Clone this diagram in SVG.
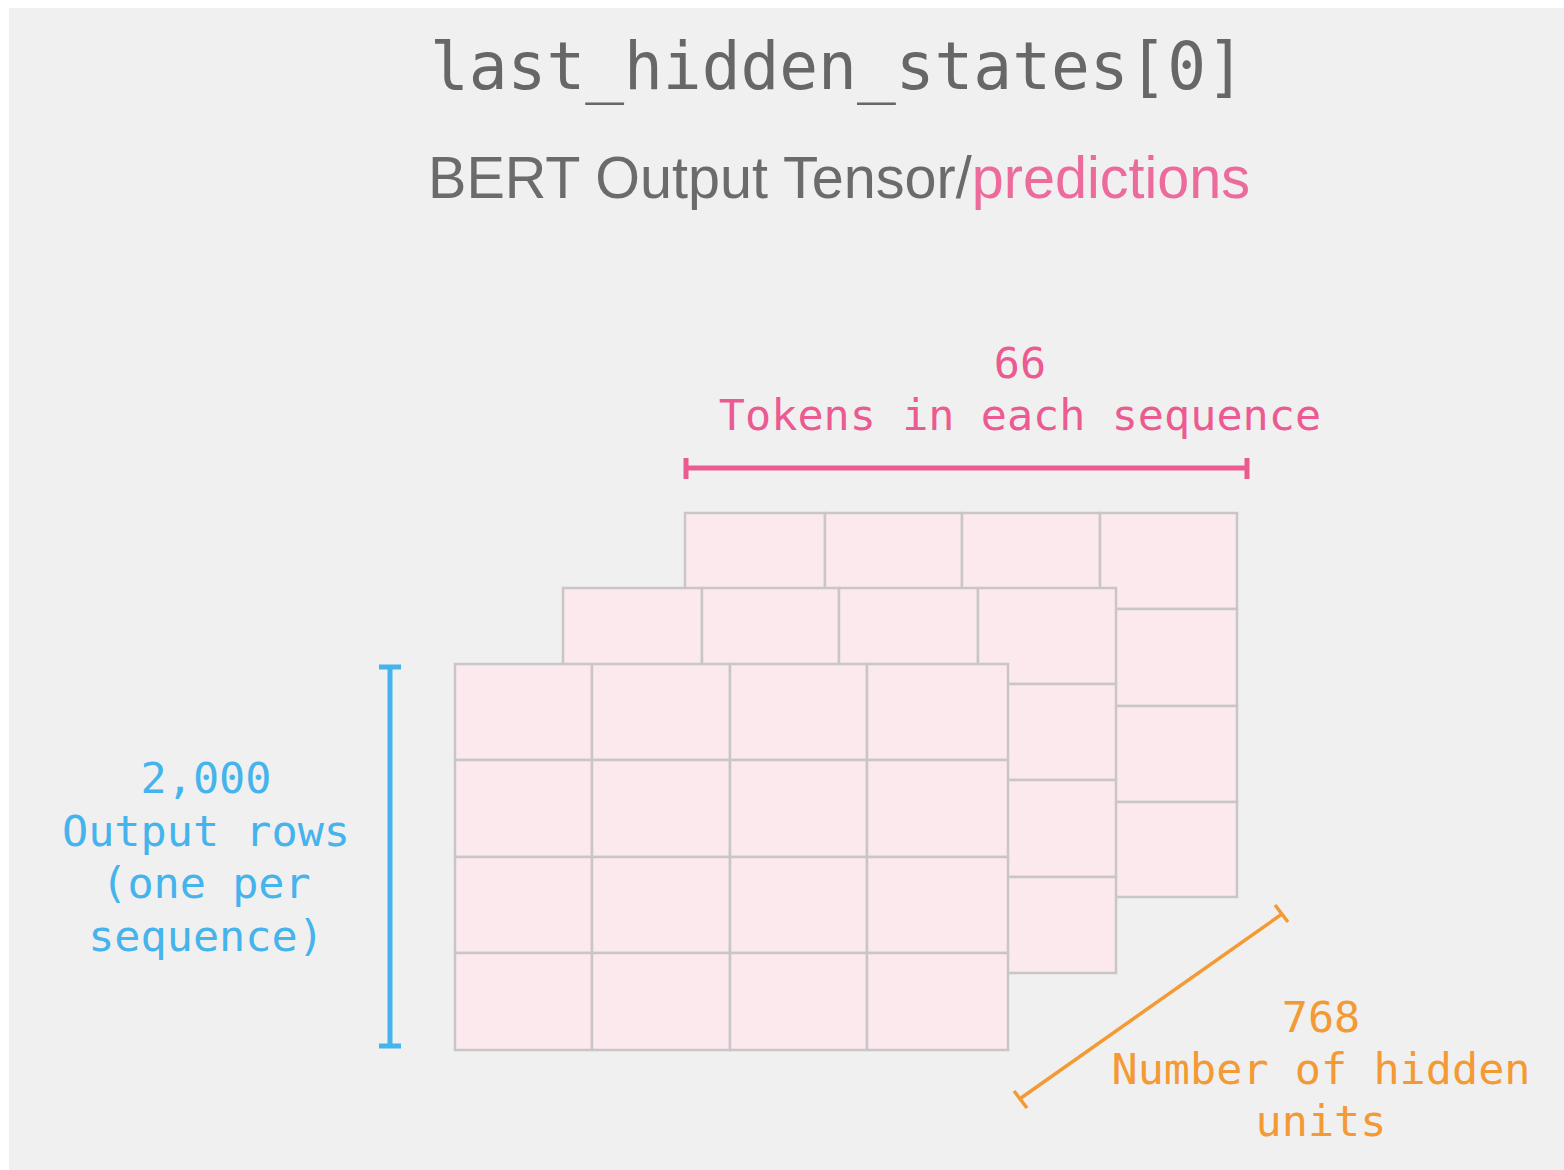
<svg xmlns="http://www.w3.org/2000/svg" width="1564" height="1170" viewBox="0 0 1564 1170">
<style>
.cell{fill:#fbe9ed;stroke:#c9c6c7;stroke-width:2.5}
.mono{font-family:"DejaVu Sans Mono","Liberation Mono",monospace}
.pink{fill:#ec5a92}
.blue{fill:#45b3ec}
.orange{fill:#f39a35}
</style>
<rect x="0" y="0" width="1564" height="1170" fill="#ffffff"/>
<rect x="9" y="8" width="1555" height="1162" fill="#f0f0f0"/>
<g id="title">
<text class="mono" x="430" y="89" font-size="65" fill="#676767" textLength="815" lengthAdjust="spacingAndGlyphs">last_hidden_states[0]</text>
</g>
<g id="subtitle">
<text x="428" y="198" font-family="Liberation Sans, Arial, sans-serif" font-size="59" fill="#6b6b6b" textLength="822" lengthAdjust="spacingAndGlyphs">BERT Output Tensor/<tspan fill="#ec6a9c">predictions</tspan></text>
</g>
<g id="layer-back">
<rect class="cell" x="685" y="513" width="140" height="96"/>
<rect class="cell" x="825" y="513" width="137" height="96"/>
<rect class="cell" x="962" y="513" width="138" height="96"/>
<rect class="cell" x="1100" y="513" width="137" height="96"/>
<rect class="cell" x="1100" y="609" width="137" height="97"/>
<rect class="cell" x="1100" y="706" width="137" height="96"/>
<rect class="cell" x="1100" y="802" width="137" height="95"/>
</g>
<g id="layer-middle">
<rect class="cell" x="563" y="588" width="139" height="96"/>
<rect class="cell" x="702" y="588" width="137" height="96"/>
<rect class="cell" x="839" y="588" width="139" height="96"/>
<rect class="cell" x="978" y="588" width="138" height="96"/>
<rect class="cell" x="978" y="684" width="138" height="96"/>
<rect class="cell" x="978" y="780" width="138" height="97"/>
<rect class="cell" x="978" y="877" width="138" height="96"/>
</g>
<g id="layer-front">
<rect class="cell" x="455" y="664" width="137" height="96"/>
<rect class="cell" x="592" y="664" width="138" height="96"/>
<rect class="cell" x="730" y="664" width="137" height="96"/>
<rect class="cell" x="867" y="664" width="141" height="96"/>
<rect class="cell" x="455" y="760" width="137" height="97"/>
<rect class="cell" x="592" y="760" width="138" height="97"/>
<rect class="cell" x="730" y="760" width="137" height="97"/>
<rect class="cell" x="867" y="760" width="141" height="97"/>
<rect class="cell" x="455" y="857" width="137" height="96"/>
<rect class="cell" x="592" y="857" width="138" height="96"/>
<rect class="cell" x="730" y="857" width="137" height="96"/>
<rect class="cell" x="867" y="857" width="141" height="96"/>
<rect class="cell" x="455" y="953" width="137" height="97"/>
<rect class="cell" x="592" y="953" width="138" height="97"/>
<rect class="cell" x="730" y="953" width="137" height="97"/>
<rect class="cell" x="867" y="953" width="141" height="97"/>
</g>
<g id="connectors">
<g stroke="#ec5a92" stroke-width="5" fill="none">
<line x1="686" y1="468" x2="1247" y2="468"/>
<line x1="686" y1="458" x2="686" y2="479"/>
<line x1="1247" y1="458" x2="1247" y2="479"/>
</g>
<g stroke="#45b3ec" stroke-width="5" fill="none">
<line x1="390" y1="667" x2="390" y2="1046"/>
<line x1="379" y1="667" x2="401" y2="667"/>
<line x1="379" y1="1046" x2="401" y2="1046"/>
</g>
<g stroke="#f39a35" stroke-width="3.5" fill="none">
<line x1="1021" y1="1098" x2="1282" y2="914"/>
<line x1="1014" y1="1091" x2="1027" y2="1108"/>
<line x1="1275" y1="905" x2="1288" y2="922"/>
</g>
</g>
<g id="label-tokens" class="mono pink" font-size="43.5" text-anchor="middle">
<text x="1020" y="378">66</text>
<text x="1020" y="430">Tokens in each sequence</text>
</g>
<g id="label-rows" class="mono blue" font-size="43.5" text-anchor="middle">
<text x="206" y="793">2,000</text>
<text x="206" y="846">Output rows</text>
<text x="206" y="898">(one per</text>
<text x="206" y="951">sequence)</text>
</g>
<g id="label-hidden" class="mono orange" font-size="43.5" text-anchor="middle">
<text x="1321" y="1032">768</text>
<text x="1321" y="1084">Number of hidden</text>
<text x="1321" y="1136">units</text>
</g>
</svg>
